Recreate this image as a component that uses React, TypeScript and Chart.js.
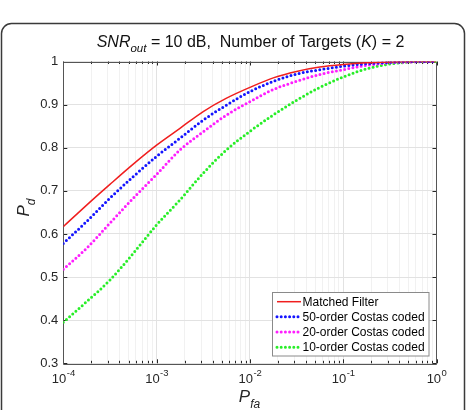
import React, { useEffect, useRef } from 'react';
import { Chart, registerables } from 'chart.js';

Chart.register(...registerables);

// ---------------- data ----------------
const PFA = [0.0001, 0.000178, 0.000316, 0.000562, 0.001, 0.00178, 0.00316, 0.00562, 0.01, 0.0178, 0.0316, 0.0562, 0.1, 0.178, 0.316, 0.562, 1];
const PD_MATCHED = [0.617, 0.667, 0.715, 0.762, 0.806, 0.845, 0.884, 0.915, 0.940, 0.962, 0.977, 0.987, 0.993, 0.997, 0.999, 1.0, 1.0];
const PD_COSTAS50 = [0.578, 0.629, 0.683, 0.733, 0.780, 0.822, 0.864, 0.899, 0.930, 0.954, 0.971, 0.981, 0.989, 0.995, 0.998, 1.0, 1.0];
const PD_COSTAS20 = [0.518, 0.567, 0.625, 0.683, 0.738, 0.795, 0.837, 0.876, 0.907, 0.935, 0.954, 0.970, 0.981, 0.991, 0.997, 0.999, 1.0];
const PD_COSTAS10 = [0.395, 0.443, 0.493, 0.555, 0.621, 0.679, 0.741, 0.795, 0.838, 0.876, 0.910, 0.940, 0.964, 0.983, 0.994, 0.999, 1.0];

const SERIES_LABELS = ['Matched Filter', '50-order Costas coded', '20-order Costas coded', '10-order Costas coded'];
const SERIES_COLORS = ['#f01e1e', '#1414ff', '#ff1eff', '#28ee28'];

const Y_TICKS = [0.3, 0.4, 0.5, 0.6, 0.7, 0.8, 0.9, 1];
const X_MAJOR_TICKS = [0.0001, 0.001, 0.01, 0.1, 1];
const X_TICK_EXPONENTS = ['-4', '-3', '-2', '-1', '0'];
const X_MINOR_MULT = [2, 3, 4, 5, 6, 7, 8, 9];

const TITLE_PARTS = [
  { t: 'SNR', italic: true, sub: false },
  { t: 'out', italic: true, sub: true },
  { t: ' = 10 dB,  Number of Targets (', italic: false, sub: false },
  { t: 'K', italic: true, sub: false },
  { t: ') = 2', italic: false, sub: false },
];

// tick positions (grid) for the log axis
const X_TICK_VALUES: number[] = [];
X_MAJOR_TICKS.forEach((m, i) => {
  X_TICK_VALUES.push(m);
  if (i < X_MAJOR_TICKS.length - 1) X_MINOR_MULT.forEach((k) => X_TICK_VALUES.push(+(m * k).toPrecision(3)));
});

const FONT = 'Arial, "Liberation Sans", Helvetica, sans-serif';
const TEXT = '#262626';

function isMajor(v: number) {
  const l = Math.log10(v);
  return Math.abs(l - Math.round(l)) < 1e-6;
}

function drawParts(ctx: CanvasRenderingContext2D, parts: any[], cx: number, y: number, size: number, subSize: number, subDy: number) {
  const fontOf = (p: any) => `${p.italic ? 'italic ' : ''}${p.sub ? subSize : size}px ${FONT}`;
  let total = 0;
  parts.forEach((p) => { ctx.font = fontOf(p); total += ctx.measureText(p.t).width; });
  let x = cx - total / 2;
  ctx.textAlign = 'left';
  ctx.textBaseline = 'alphabetic';
  parts.forEach((p) => {
    ctx.font = fontOf(p);
    ctx.fillText(p.t, x, p.sub ? y + subDy : y);
    x += ctx.measureText(p.t).width;
  });
}

const decorPlugin = {
  id: 'decor',
  beforeDraw(chart: any) {
    const ctx = chart.ctx as CanvasRenderingContext2D;
    ctx.save();
    ctx.fillStyle = '#ffffff';
    ctx.fillRect(0, 0, chart.width, chart.height);
    ctx.beginPath();
    (ctx as any).roundRect(1.5, 23.5, 463, 430, 10);
    ctx.strokeStyle = '#3a3a3a';
    ctx.lineWidth = 1.5;
    ctx.stroke();
    ctx.restore();
  },
  beforeDatasetsDraw(chart: any) {
    const ctx = chart.ctx as CanvasRenderingContext2D;
    const a = chart.chartArea;
    const xs = chart.scales.x;
    const ys = chart.scales.y;
    ctx.save();
    ctx.strokeStyle = TEXT;
    ctx.lineWidth = 1;
    // inward tick marks
    ctx.beginPath();
    X_TICK_VALUES.forEach((v) => {
      const px = Math.round(xs.getPixelForValue(v)) + 0.5;
      const len = isMajor(v) ? 4 : 2.5;
      ctx.moveTo(px, a.bottom); ctx.lineTo(px, a.bottom - len);
      ctx.moveTo(px, a.top); ctx.lineTo(px, a.top + len);
    });
    Y_TICKS.forEach((v) => {
      const py = Math.round(ys.getPixelForValue(v)) + 0.5;
      ctx.moveTo(a.left, py); ctx.lineTo(a.left + 4, py);
      ctx.moveTo(a.right, py); ctx.lineTo(a.right - 4, py);
    });
    ctx.stroke();
    // box
    ctx.beginPath();
    ctx.strokeStyle = '#555555';
    ctx.rect(Math.round(a.left) + 0.5, Math.round(a.top) + 0.5, Math.round(a.right - a.left), Math.round(a.bottom - a.top));
    ctx.stroke();
    ctx.restore();
  },
  afterDraw(chart: any) {
    const ctx = chart.ctx as CanvasRenderingContext2D;
    const xs = chart.scales.x;
    const a = chart.chartArea;
    ctx.save();

    // x tick labels: 10 with superscript exponent
    ctx.fillStyle = TEXT;
    ctx.textBaseline = 'alphabetic';
    X_MAJOR_TICKS.forEach((v, i) => {
      const px = xs.getPixelForValue(v);
      ctx.font = `13px ${FONT}`;
      const wb = ctx.measureText('10').width;
      ctx.font = `9.5px ${FONT}`;
      const we = ctx.measureText(X_TICK_EXPONENTS[i]).width;
      const x0 = px - (wb + we) / 2;
      ctx.textAlign = 'left';
      ctx.font = `13px ${FONT}`;
      ctx.fillText('10', x0, a.bottom + 20);
      ctx.font = `9.5px ${FONT}`;
      ctx.fillText(X_TICK_EXPONENTS[i], x0 + wb + 0.5, a.bottom + 13);
    });

    // title
    ctx.fillStyle = '#111111';
    drawParts(ctx, TITLE_PARTS, 250.5, 47, 16, 11.5, 5);

    // x label
    ctx.fillStyle = TEXT;
    drawParts(ctx, [{ t: 'P', italic: true, sub: false }, { t: 'fa', italic: true, sub: true }], 249.5, 401.5, 17, 12, 6);

    // y label (rotated)
    ctx.save();
    ctx.translate(28.5, 207.5);
    ctx.rotate(-Math.PI / 2);
    drawParts(ctx, [{ t: 'P', italic: true, sub: false }, { t: 'd', italic: true, sub: true }], 0, 0, 17, 12, 6);
    ctx.restore();

    // legend
    const lx = 272.5, ly = 292.5, lw = 156.5, lh = 63.5;
    ctx.fillStyle = '#ffffff';
    ctx.fillRect(lx, ly, lw, lh);
    ctx.strokeStyle = '#8a8a8a';
    ctx.lineWidth = 1;
    ctx.strokeRect(lx, ly, lw, lh);
    const rows = [301.7, 316.7, 331.9, 347.2];
    chart.data.datasets.forEach((ds: any, i: number) => {
      const y = rows[i];
      ctx.save();
      ctx.strokeStyle = ds.borderColor;
      ctx.lineWidth = ds.borderWidth;
      ctx.lineCap = ds.borderCapStyle || 'butt';
      ctx.setLineDash(ds.borderDash || []);
      ctx.beginPath();
      ctx.moveTo(277, y);
      ctx.lineTo(301, y);
      ctx.stroke();
      ctx.restore();
      ctx.fillStyle = '#000000';
      ctx.font = `12px ${FONT}`;
      ctx.textAlign = 'left';
      ctx.textBaseline = 'middle';
      ctx.fillText(ds.label, 302.5, y + 0.5);
    });
    ctx.restore();
  },
};

export default function App() {
  const ref = useRef<HTMLCanvasElement | null>(null);

  useEffect(() => {
    if (!ref.current) return;
    const series = [PD_MATCHED, PD_COSTAS50, PD_COSTAS20, PD_COSTAS10];
    const datasets = series.map((arr, i) => {
      const dotted = i > 0;
      return {
        label: SERIES_LABELS[i],
        data: PFA.map((x, j) => ({ x, y: arr[j] })),
        borderColor: SERIES_COLORS[i],
        backgroundColor: SERIES_COLORS[i],
        borderWidth: dotted ? 3 : 1.5,
        borderDash: dotted ? [0, 4.2] : [],
        borderCapStyle: dotted ? 'round' : 'butt',
        pointRadius: 0,
        fill: false,
        cubicInterpolationMode: 'monotone',
      };
    });

    const chart = new Chart(ref.current, {
      type: 'line',
      data: { datasets } as any,
      options: {
        responsive: false,
        animation: false,
        events: [],
        layout: { padding: { top: 61.5, right: 32.5, bottom: 0, left: 0 } },
        plugins: { legend: { display: false }, tooltip: { enabled: false }, title: { display: false } },
        scales: {
          x: {
            type: 'logarithmic',
            min: 0.0001,
            max: 1,
            afterBuildTicks: (scale: any) => {
              scale.ticks = X_TICK_VALUES.map((v) => ({ value: v, major: isMajor(v) }));
            },
            afterFit: (scale: any) => { scale.height = 46.7; },
            border: { display: false },
            grid: {
              drawTicks: false,
              tickLength: 0,
              lineWidth: 1,
              color: (c: any) => (c.tick && isMajor(c.tick.value) ? '#e2e2e2' : '#f1f1f1'),
            },
            ticks: { display: false, autoSkip: false, maxRotation: 0 },
          },
          y: {
            type: 'linear',
            min: 0.3,
            max: 1,
            afterBuildTicks: (scale: any) => {
              scale.ticks = Y_TICKS.map((v) => ({ value: v }));
            },
            afterFit: (scale: any) => { scale.width = 63.3; },
            border: { display: false },
            grid: { drawTicks: false, tickLength: 0, color: '#e2e2e2', lineWidth: 1 },
            ticks: {
              padding: 5,
              color: TEXT,
              font: { family: FONT, size: 13 },
              callback: (value: any) => {
                const v = Math.round(Number(value) * 10) / 10;
                return v === 1 ? '1' : v.toFixed(1);
              },
            },
          },
        },
      } as any,
      plugins: [decorPlugin as any],
    });
    return () => chart.destroy();
  }, []);

  return (
    <div style={{ position: 'fixed', left: 0, top: 0, width: 469, height: 410, background: '#fff' }}>
      <canvas ref={ref} width={469} height={410} style={{ display: 'block' }} />
    </div>
  );
}
